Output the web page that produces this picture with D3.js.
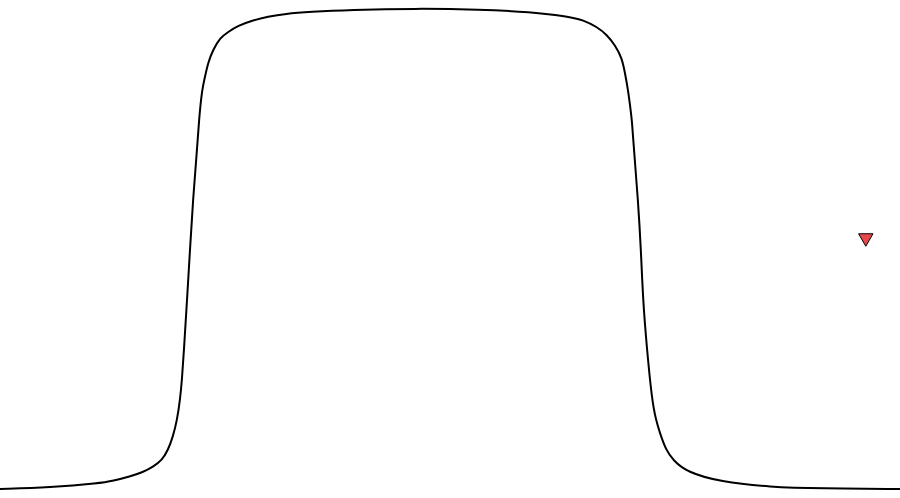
<!DOCTYPE html>
<html>
<head>
<meta charset="utf-8">
<script src="https://cdn.jsdelivr.net/npm/d3@7"></script>
<style>
  html, body { margin: 0; padding: 0; background: #fff; }
  svg { display: block; }
</style>
</head>
<body>
<svg id="chart"></svg>
<script>
var width = 900;
var height = 498;

// curve samples (x in 0..100, y in 0..100)
var xValues = [0, 5.56, 11.11, 12.56, 14.44, 15.89, 17, 18, 18.67, 19.22,
    19.67, 20, 20.22, 20.44, 20.78, 21.11, 21.44, 21.89, 22.11, 22.44,
    22.78, 23.11, 23.67, 24.44, 25.33, 26.44, 28, 29.78, 31.67, 34.44,
    38.89, 46.11, 53.33, 58.89, 63.33, 64.78, 66.33, 67.44, 68.33, 69.11,
    69.44, 69.78, 70, 70.22, 70.44, 70.89, 71.22, 71.44, 71.89, 72.44,
    72.89, 73.33, 74, 74.78, 76.33, 80, 85.56, 91.11, 100];
var yValues = [0, 0.3, 1.2, 1.7, 2.6, 3.5, 4.6, 6.0, 8.1, 10.9,
    14.3, 18.5, 22.7, 28.9, 39.3, 49.7, 60.1, 70.5, 76.7, 83.0,
    85.7, 88.6, 91.3, 93.8, 95.0, 96.3, 97.4, 98.2, 98.8, 99.2,
    99.6, 99.9, 99.7, 99.2, 98.2, 97.5, 96.1, 94.4, 92.3, 89.6,
    86.5, 83.0, 79.8, 76.7, 70.5, 60.1, 49.7, 39.3, 28.9, 18.5,
    14.3, 11.6, 8.1, 6.0, 3.5, 1.5, 0.4, 0.1, 0];

// the single marker
var markerX = [96.2];
var markerY = [52.2];

var svg = d3.select("#chart")
    .attr("width", width)
    .attr("height", height);

var xScale = d3.scaleLinear().domain([0, 100]).range([0, 900]);
var yScale = d3.scaleLinear().domain([0, 100]).range([489, 8]);

var points = xValues.map(function(x, i){ return [x, yValues[i]]; });

var line = d3.line()
    .x(function(d){ return xScale(d[0]); })
    .y(function(d){ return yScale(d[1]); })
    .curve(d3.curveBasis);

svg.append("path")
    .datum(points)
    .attr("d", line)
    .attr("fill", "none")
    .attr("stroke", "#000")
    .attr("stroke-width", 2);

svg.selectAll("path.marker")
    .data(markerX)
    .enter()
    .append("path")
        .attr("class", "marker")
        .attr("d", d3.symbol().type(d3.symbolTriangle).size(90))
        .attr("transform", function(d, i){
            return "translate(" + xScale(d) + "," + yScale(markerY[i]) + ") rotate(180)";
        })
        .attr("fill", "#e8474c")
        .attr("stroke", "#000")
        .attr("stroke-width", 1);
</script>
</body>
</html>
